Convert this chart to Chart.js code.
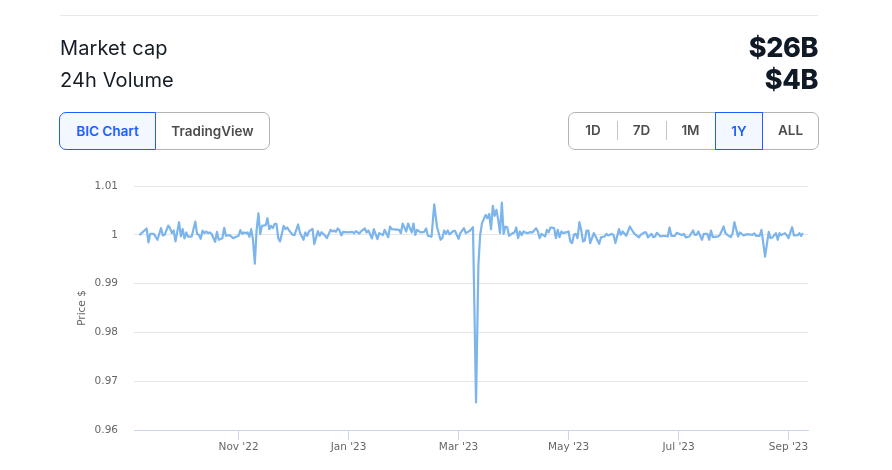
<!DOCTYPE html>
<html><head><meta charset="utf-8">
<script src="https://cdn.jsdelivr.net/npm/chart.js@4"></script>
<style>
html,body{margin:0;padding:0;background:#fff;width:892px;height:470px;overflow:hidden;font-family:"Inter","Noto Sans",sans-serif}
#c{position:absolute;left:0;top:0}
.rule{position:absolute;left:60px;top:15px;width:758px;height:1px;background:#e8e8e8}
.lbl{position:absolute;left:60px;font-size:20px;line-height:26px;color:#141c26;font-weight:400;letter-spacing:.1px}
.val{position:absolute;right:74px;font-size:27px;line-height:32px;color:#0f1a26;font-weight:800;font-family:"Inter",sans-serif;letter-spacing:-.4px}
.b{position:absolute;box-sizing:border-box;height:38px;top:112px;font-size:13.5px;font-weight:600;line-height:36px;text-align:center;color:#4d4d4d}
.on{color:#1a5fff;background:#f3f7ff;border:1px solid #1a5fff}
.sep{position:absolute;top:121px;height:19px;width:1px;background:#c4c4c4}
</style></head><body>
<canvas id="c" width="892" height="470" style="width:892px;height:470px"></canvas>
<div class="rule"></div>
<div class="lbl" style="top:35px">Market cap</div>
<div class="lbl" style="top:67px">24h Volume</div>
<div class="val" style="top:32px">$26B</div>
<div class="val" style="top:64px">$4B</div>
<div class="b" style="left:155px;width:115px;border:1px solid #b3b3b3;border-radius:0 7px 7px 0">TradingView</div>
<div class="b on" style="left:59px;width:97px;border-radius:7px 0 0 7px">BIC Chart</div>
<div class="b" style="left:568px;width:251px;border:1px solid #b3b3b3;border-radius:7px"></div>
<div class="b" style="left:568px;width:50px">1D</div>
<div class="b" style="left:617px;width:49px">7D</div>
<div class="b" style="left:666px;width:49px">1M</div>
<div class="b on" style="left:715px;width:48px">1Y</div>
<div class="b" style="left:763px;width:55px">ALL</div>
<div class="sep" style="left:617px"></div>
<div class="sep" style="left:666px"></div>
<script>
const days=[3,7,8,9,11,13,15,16,17,19,20,21,22,23,25,26,27,28,29,30,32,34,35,36,37,38,39,40,41,42,43,45,46,47,49,50,51,53,55,57,58,59,60,61,62,63,64,65,66,67,68,69,70,71,73,74,75,76,77,78,79,80,81,83,84,85,86,88,89,91,92,94,95,96,97,99,100,102,103,104,106,107,109,110,111,112,113,114,115,116,119,121,122,123,125,126,128,129,130,132,133,135,136,138,139,141,142,143,147,148,149,151,152,154,155,156,157,159,161,162,163,165,166.5,168,170,171,172,173,174,175,177,178,180,181,183,184,186,188,189.7,191,192,193,195,196,197,198,199,200,201,202,203,204,205,206,207,208,210,211,212,213,214,215,216,218,220,221,223,224,225,226,228,229,230,231,233,234,235,236,237,238,240,241,242,243,244,245,246,247,248,249,250,251,252,253,255,256,258,259,261,262,263,265,266,267,269,270,271,273,275,277,278,280,281,283,284,285,287,288,289,290,292,294,296,297,298,300,301,304,305,306,308,310,311,312,313,315,316,318,319,320,321,324,325,327,328,329,331,332,333,335,336,338,340,343,344,345,347,348,350,352,353,354,356,357,358,359,361,362,363,365,366,368,369,370,371];
const prices=[.99993,1.00129,.99844,1.0002,1.0002,.99898,1.00136,.99986,1,1.0019,1.00136,1.00034,1.00088,.99864,1.00258,.99966,1.00116,.99925,1.00048,.99959,.99966,1.00272,1.00014,1,.99918,1.00088,1.00034,1.00068,1.00034,1.00048,1.0002,.99857,1.00061,.99898,.99929,1.00143,.9998,.99993,.99931,.99966,.9998,1.00095,1.0002,1.00048,1.00034,1.00048,.99959,1.00116,.99898,.99408,1.00102,1.00442,1.00014,1.00184,1.00197,1.0034,1.00116,1.00184,1.00136,1.00224,1.00224,.99932,.99864,1.00184,1.00116,1.0015,1.00088,1,.99993,1.00211,1.00048,.99898,1.00048,.9998,1.00068,1.00122,.9981,1.00075,.9998,1.00054,.9998,.99932,1.00102,1.00068,1.00088,1.00061,1.00129,1.00088,.99986,1.00061,1.00048,1.00061,1.00034,1.00075,1.00027,1.00075,1.00129,1.00048,1.00088,.99925,1.00116,.99912,1.00034,.99993,1.00102,.99952,1.0017,1.00116,1.00102,1.00034,1.00231,1.00068,1.00231,1.00048,1.00231,1,1.00102,1.00048,1.00061,1.00129,.9998,.99959,1.00626,1.0017,.99898,.99932,1.00088,1.0002,1.00088,1.00007,1.00075,1.00082,.99918,1.00034,1.00136,1.00034,1.00075,1.00156,.96565,.99388,1,1.00238,1.00408,1.0034,1.00428,1.00116,1.00593,1.00388,1.0051,1.00306,1.00034,1.0066,1.0002,1.0017,1.00156,.9998,1.00034,1.00048,1.0015,.99932,1.00068,.99993,1.00068,1.00034,1.00054,1.00048,1.00136,1.00068,.99932,1.0002,.99966,1.00102,1.00048,1.0015,1.00136,.99932,1.00102,.99952,1.00068,1.00034,1.00054,1.00068,.99864,.9983,1,1.0002,.99932,1.00258,1.00102,.99864,.99884,1.00088,1.00088,.9983,1.00034,.99966,.99816,.99946,.99966,1.0002,.99986,1.0002,.99993,.9983,1.00116,1,1.00068,.9998,1.0017,1.00048,1.00007,.99946,1,1.00048,1.00048,.99946,1.0002,.99952,.99966,1.00041,.99966,.9998,.99966,1.0015,.9998,.9998,1.00041,.99993,1.0002,.99946,.99966,1.00088,1,1,1.00068,.99898,1.0002,1.0002,.99898,1.00088,.99952,.99966,1,1.0017,1.00034,1,.99952,1.00034,1.00258,.99966,1.00048,.99986,1.00014,1,1.00027,.9998,.9998,1.00102,.99551,1.00061,.99932,.99946,1.00034,.99898,1.00034,.99993,1.00034,.99993,.99932,1.00156,.99986,.99993,1.00034,.9998,1.00034];
const tickDays=[58,119,180,241,302,363];
const tickLabels=["Nov '22","Jan '23","Mar '23","May '23","Jul '23","Sep '23"];
const priceTicks=[0.96,0.97,0.98,0.99,1,1.01];
const yTitle="Price $";

const tickFont={family:'"DejaVu Sans",sans-serif',size:10.5};
new Chart(document.getElementById('c'),{
  type:'line',
  data:{datasets:[{data:days.map((d,i)=>({x:d,y:prices[i]})),borderColor:'#7cb5ec',borderWidth:2.2,pointRadius:0,tension:0,fill:false,borderJoinStyle:'round'}]},
  options:{
    responsive:false,animation:false,devicePixelRatio:1,
    layout:{padding:{left:76,right:84,top:186,bottom:0}},
    plugins:{legend:{display:false},tooltip:{enabled:false},title:{display:false}},
    scales:{
      x:{type:'linear',min:0,max:373.8,
        afterBuildTicks:s=>{s.ticks=tickDays.map(v=>({value:v}))},
        afterFit:s=>{s.height=40},
        ticks:{autoSkip:false,maxRotation:0,color:'#666',font:tickFont,padding:1,callback:v=>tickLabels[tickDays.indexOf(v)]},
        grid:{drawOnChartArea:false,drawTicks:true,tickLength:10,tickColor:'#ccd6eb',color:'#ccd6eb'},
        border:{color:'#ccd6eb',width:1}},
      y:{type:'linear',min:.96,max:1.01,
        afterBuildTicks:s=>{s.ticks=priceTicks.map(v=>({value:v}))},
        afterFit:s=>{s.width=58},
        ticks:{autoSkip:false,color:'#666',font:tickFont,padding:16,callback:v=>String(v)},
        grid:{color:'#e6e6e6',drawTicks:false,lineWidth:1},
        border:{display:false},
        title:{display:true,text:yTitle,color:'#666',font:tickFont,padding:{top:0,bottom:0}}}
    }
  }
});
</script>
</body></html>
